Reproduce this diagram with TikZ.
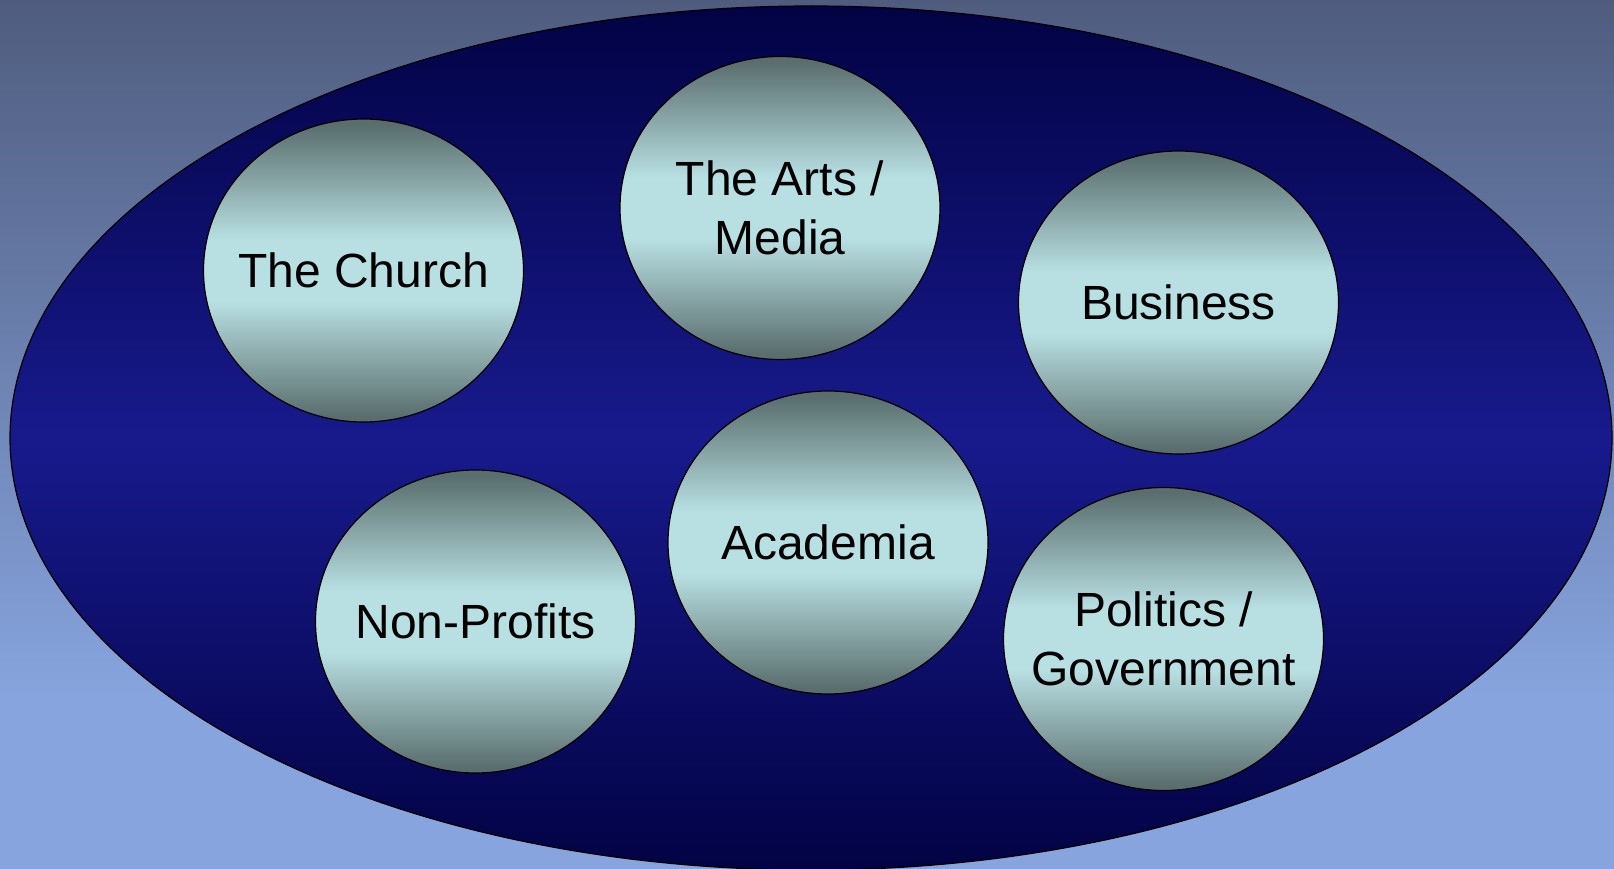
\documentclass[tikz,border=0pt]{standalone}
\usepackage{fontspec}
\setmainfont{Liberation Sans}
\usetikzlibrary{shapes.geometric}
\definecolor{bgdark}{HTML}{4F5C7E}
\definecolor{bglight}{HTML}{87A4DE}
\definecolor{elldark}{HTML}{020244}
\definecolor{elllight}{HTML}{181A8C}
\definecolor{cdark}{HTML}{5A6E6E}
\definecolor{cmid}{HTML}{92B0B1}
\definecolor{clight}{HTML}{B8E0E3}
\pgfdeclareverticalshading{bgsh}{100bp}{color(0bp)=(bglight); color(35bp)=(bglight); color(75bp)=(bgdark); color(100bp)=(bgdark)}
\pgfdeclareverticalshading{ellsh}{100bp}{color(0bp)=(elldark); color(25bp)=(elldark); color(50bp)=(elllight); color(75bp)=(elldark); color(100bp)=(elldark)}
\pgfdeclareverticalshading{circsh}{100bp}{color(0bp)=(cdark); color(26bp)=(cdark); color(37bp)=(cmid); color(45bp)=(clight); color(55bp)=(clight); color(63bp)=(cmid); color(74bp)=(cdark); color(100bp)=(cdark)}
\tikzset{
  bigoval/.style={ellipse, draw=black, line width=1.2pt, shading=ellsh, minimum width=1602pt, minimum height=864pt, inner sep=0pt},
  sphere/.style={ellipse, draw=black, line width=1.2pt, shading=circsh, minimum width=320pt, minimum height=303pt, inner sep=0pt,
    label={[spheretext]center:{#1}}},
  spheretext/.style={align=center, inner sep=0pt, font=\fontsize{48}{59}\selectfont, text=black}
}
\begin{document}
\begin{tikzpicture}[x=1pt,y=-1pt]
\useasboundingbox (0,0) rectangle (1614,869);
\shade[shading=bgsh] (0,0) rectangle (1614,869);
\node[bigoval] (oval) at (811,438) {};
\node[sphere={The Church}] (church) at (363.5,270.5) {};
\node[sphere={The Arts /\\Media}] (arts) at (780,208) {};
\node[sphere={Business}] (business) at (1178.5,302.5) {};
\node[sphere={Academia}] (academia) at (828,542.5) {};
\node[sphere={Non-Profits}] (nonprofits) at (475.5,621.5) {};
\node[sphere={Politics /\\Government}] (politics) at (1163.5,639) {};
\end{tikzpicture}
\end{document}
